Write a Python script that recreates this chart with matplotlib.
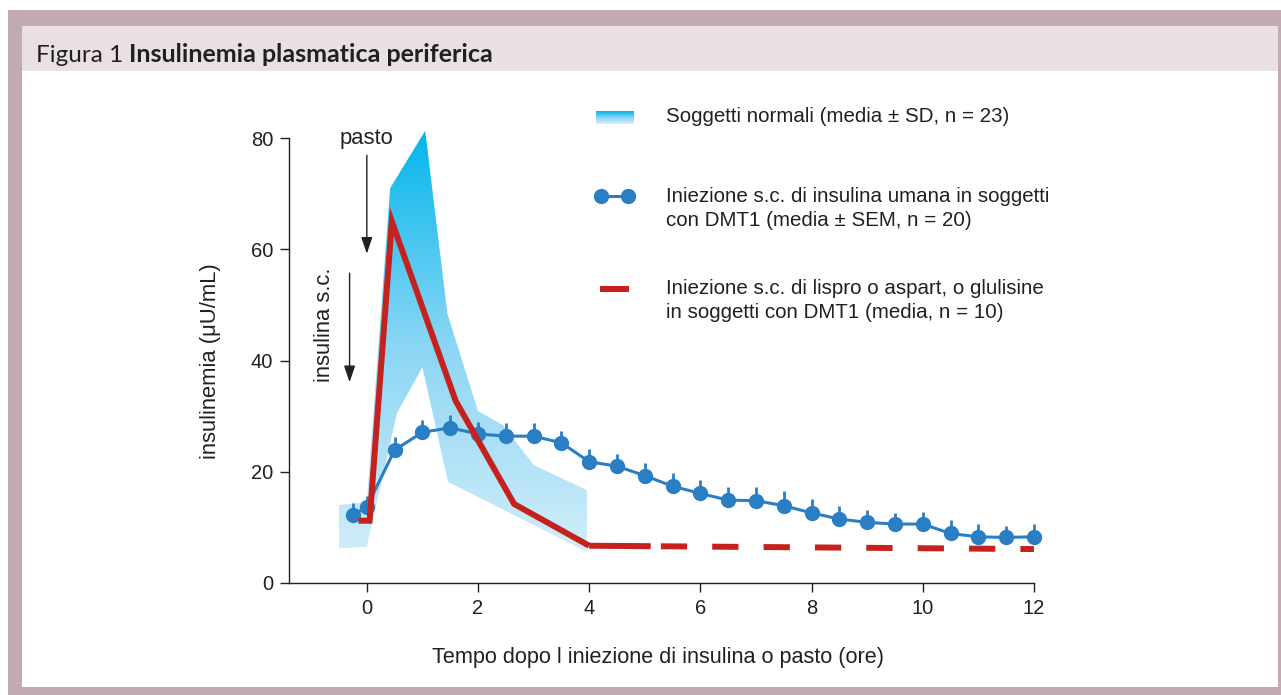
import numpy as np
import matplotlib
matplotlib.use('Agg')
import matplotlib.pyplot as plt
from matplotlib.colors import LinearSegmentedColormap
from matplotlib.patches import Polygon, Rectangle
from matplotlib.lines import Line2D

# Soggetti normali: banda media +/- SD (bordo superiore e inferiore)
band_up_t = [-0.5, 0.0, 0.42, 1.05, 1.45, 2.0, 2.45, 3.0, 3.96]
band_up = [14.0, 14.6, 71.0, 81.3, 48.4, 30.9, 28.4, 21.2, 16.7]
band_lo_t = [-0.5, 0.0, 0.54, 1.0, 1.46, 3.96]
band_lo = [6.2, 6.5, 30.5, 38.8, 18.2, 5.6]

# insulina umana s.c. (media +/- SEM)
t_umana = [-0.25, 0, 0.5, 1, 1.5, 2, 2.5, 3, 3.5, 4, 4.5, 5, 5.5, 6, 6.5,
           7, 7.5, 8, 8.5, 9, 9.5, 10, 10.5, 11, 11.5, 12]
ins_umana = [12.2, 13.7, 23.9, 27.1, 27.9, 26.8, 26.4, 26.4, 25.2, 21.8, 21.0,
             19.3, 17.4, 16.1, 14.9, 14.8, 13.9, 12.6, 11.5, 10.9, 10.6, 10.6,
             8.9, 8.3, 8.2, 8.3]
sem_umana = [2.2, 2.0, 2.3, 2.2, 2.3, 2.2, 2.3, 2.3, 2.2, 2.3, 2.2, 2.2, 2.4,
             2.5, 2.4, 2.4, 2.6, 2.5, 2.3, 2.2, 2.0, 2.2, 2.4, 2.3, 2.1, 2.3]

# lispro / aspart / glulisine (media); tratto continuo + tratto tratteggiato
t_analoghi = [-0.15, 0.05, 0.45, 1.6, 2.65, 4.0]
ins_analoghi = [11.2, 11.2, 65.0, 32.7, 14.2, 6.7]
t_analoghi_dash = [4.0, 12.0]
ins_analoghi_dash = [6.7, 6.1]

x_ticks = [0, 2, 4, 6, 8, 10, 12]
y_ticks = [0, 20, 40, 60, 80]

W, H = 1281, 695
TXT = '#231f20'
BLU = '#2a7ec4'
ROSSO = '#c5211f'
grad = LinearSegmentedColormap.from_list('band', ['#d4eef9', '#8ad6f4', '#00b5ec'])

plt.rcParams['font.family'] = ['Liberation Sans', 'DejaVu Sans']
fig = plt.figure(figsize=(W / 100, H / 100), dpi=100)

# sfondo: cornice e intestazione (coordinate in pixel)
ov = fig.add_axes([0, 0, 1, 1], zorder=0)
ov.set_xlim(0, W)
ov.set_ylim(H, 0)
ov.axis('off')
ov.add_patch(Rectangle((8, 10), W - 8, H - 10, color='#c1abb1', lw=0))
ov.add_patch(Rectangle((22, 26), 1256, 661, color='white', lw=0))
ov.add_patch(Rectangle((22, 26), 1256, 45, color='#e9e0e3', lw=0))
ov.text(36, 62, 'Figura 1', fontsize=17.5, family='Lato', color=TXT)
ov.text(129, 62, 'Insulinemia plasmatica periferica', fontsize=18, family='Lato',
        fontweight='bold', color=TXT)

# legenda
sw = np.linspace(1, 0, 20).reshape(-1, 1)
ov.imshow(sw, cmap=grad, extent=(596, 634, 124, 111), aspect='auto',
          origin='upper', zorder=3)
ov.set_xlim(0, W)
ov.set_ylim(H, 0)
ov.add_line(Line2D([601, 628], [196, 196], color=BLU, lw=2.2, marker='o', ms=10, zorder=3))
ov.add_line(Line2D([600, 629], [289, 289], color=ROSSO, lw=4.3,
                   solid_capstyle='butt', zorder=3))
leg_kw = dict(fontsize=14.8, color=TXT, va='center')
ov.text(666, 117, 'Soggetti normali (media ± SD, n = 23)', **leg_kw)
ov.text(666, 196, 'Iniezione s.c. di insulina umana in soggetti', **leg_kw)
ov.text(666, 220, 'con DMT1 (media ± SEM, n = 20)', **leg_kw)
ov.text(666, 288, 'Iniezione s.c. di lispro o aspart, o glulisine', **leg_kw)
ov.text(666, 312, 'in soggetti con DMT1 (media, n = 10)', **leg_kw)

ax = fig.add_axes([289 / W, 112 / H, 761.6 / W, 456.1 / H], zorder=1)
ax.set_facecolor('none')
ax.set_xlim(-1.4, 12.3)
ax.set_ylim(0, 82)

# banda con sfumatura verticale
poly_xy = list(zip(band_up_t, band_up)) + list(zip(band_lo_t[::-1], band_lo[::-1]))
poly = Polygon(poly_xy, closed=True, fc='none', ec='none')
ax.add_patch(poly)
col = np.linspace(0, 1, 256).reshape(-1, 1)
img = ax.imshow(col, cmap=grad, extent=(-1.4, 12.3, 4, 82), origin='lower',
                aspect='auto', zorder=1)
img.set_clip_path(poly)

ax.errorbar(t_umana, ins_umana, yerr=[np.zeros(len(sem_umana)), sem_umana],
            fmt='-o', color=BLU, lw=2.2, ms=10, elinewidth=2, capsize=0,
            zorder=3, clip_on=False)
ax.plot(t_analoghi, ins_analoghi, color=ROSSO, lw=4.3, solid_joinstyle='miter',
        solid_capstyle='butt', zorder=4)
ax.plot(t_analoghi_dash, ins_analoghi_dash, color=ROSSO, lw=4.3, zorder=4,
        dash_capstyle='butt', dashes=[10.3, 1.7] + [4.4, 4.2] * 7)

# frecce
arr = dict(arrowstyle='-|>,head_length=0.5,head_width=0.17', color=TXT, lw=1,
           mutation_scale=20, shrinkA=0, shrinkB=0)
ax.annotate('', xy=(0, 59.2), xytext=(0, 76.9), arrowprops=arr)
ax.annotate('', xy=(-0.31, 36.1), xytext=(-0.31, 55.7), arrowprops=arr)
ax.text(0, 80, 'pasto', fontsize=15.8, color=TXT, ha='center', va='center')
ax.text(-0.76, 46.4, 'insulina s.c.', fontsize=15.8, color=TXT, rotation=90,
        ha='center', va='center')

for s in ['top', 'right']:
    ax.spines[s].set_visible(False)
ax.spines['left'].set_bounds(0, 80)
ax.spines['bottom'].set_bounds(-1.4, 12)
for s in ['left', 'bottom']:
    ax.spines[s].set_linewidth(1)
    ax.spines[s].set_color(TXT)
ax.set_xticks(x_ticks)
ax.set_yticks(y_ticks)
ax.tick_params(length=6.5, width=1, color=TXT, labelsize=14.5, labelcolor=TXT, pad=5)

ax.set_xlabel('Tempo dopo l iniezione di insulina o pasto (ore)', fontsize=15.6,
              color=TXT, va='baseline')
ax.xaxis.set_label_coords((658 - 289) / 761.6, -0.1754)
ax.set_ylabel('insulinemia (μU/mL)', fontsize=15.8, color=TXT, va='center')
ax.yaxis.set_label_coords(-0.1037, (583 - 361) / 456.1)

fig.savefig('out.png', dpi=100)
